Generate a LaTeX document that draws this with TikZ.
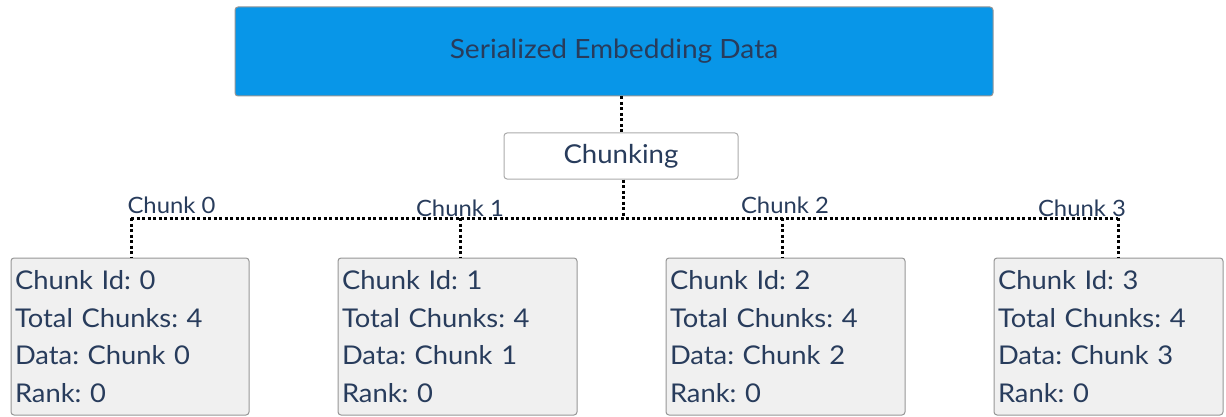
\documentclass[tikz,border=0pt]{standalone}
\usepackage{fontspec}
\setmainfont{Lato}[FakeStretch=1.06]
\usetikzlibrary{calc}
\definecolor{txt}{RGB}{40,60,92}
\definecolor{topblue}{RGB}{8,150,232}
\definecolor{boxgray}{RGB}{240,240,240}
\definecolor{edge}{RGB}{150,150,150}
\tikzset{
  topbox/.style={draw=edge, fill=topblue, rounded corners=3pt, line width=1pt, text=txt,
    minimum width=758pt, minimum height=89pt, inner sep=0pt, font=\fontsize{26.5}{30}\selectfont},
  chunkbox/.style={draw=edge!80, fill=white, rounded corners=3pt, line width=1pt, text=txt,
    minimum width=234pt, minimum height=46pt, inner sep=0pt, font=\fontsize{26}{30}\selectfont},
  infobox/.style={draw=edge, fill=boxgray, rounded corners=3pt, line width=1pt, text=txt,
    minimum height=157pt, inner xsep=4pt, inner ysep=0pt, align=left,
    font=\fontsize{25.8}{37.5}\selectfont},
  lbl/.style={text=txt, inner sep=0pt, font=\fontsize{22.5}{25}\selectfont},
  dotline/.style={draw=black, line width=3pt, dash pattern=on 3pt off 2.5pt},
}
\begin{document}
\frenchspacing
\begin{tikzpicture}[x=1pt,y=-1pt]
\useasboundingbox (0,0) rectangle (1226,417);
\node[topbox] (top) at (614,51.5) {Serialized Embedding Data};
\node[chunkbox] (chunk) at (621,156) {Chunking};
\node[infobox, text width=230pt] (b0) at (130,336.5) {Chunk Id: 0\\Total Chunks: 4\\Data: Chunk 0\\Rank: 0};
\node[infobox, text width=231pt] (b1) at (457.5,336.5) {Chunk Id: 1\\Total Chunks: 4\\Data: Chunk 1\\Rank: 0};
\node[infobox, text width=231pt] (b2) at (785.5,336.5) {Chunk Id: 2\\Total Chunks: 4\\Data: Chunk 2\\Rank: 0};
\node[infobox, text width=221pt] (b3) at (1108.5,336.5) {Chunk Id: 3\\Total Chunks: 4\\Data: Chunk 3\\Rank: 0};
\coordinate (h0) at (131,218);
\coordinate (h1) at (460,218);
\coordinate (h2) at (782,218);
\coordinate (h3) at (1118,218);
\coordinate (hc) at (623,218);
\draw[dotline] (top.south -| chunk.north) -- (chunk.north);
\draw[dotline] (chunk.south -| hc) -- (hc);
\draw[dotline] (h0) -- (h3);
\draw[dotline] (h0) -- (h0 |- b0.north);
\draw[dotline] (h1) -- (h1 |- b1.north);
\draw[dotline] (h2) -- (h2 |- b2.north);
\draw[dotline] (h3) -- (h3 |- b3.north);
\node[lbl] (l0) at (171.5,205) {Chunk 0};
\node[lbl] (l1) at (460,208) {Chunk 1};
\node[lbl] (l2) at (785,205) {Chunk 2};
\node[lbl] (l3) at (1082,208) {Chunk 3};
\end{tikzpicture}
\end{document}
